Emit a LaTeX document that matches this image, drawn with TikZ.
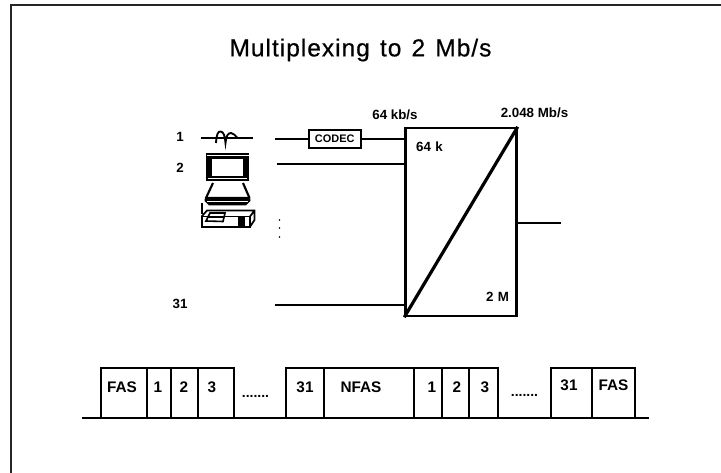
\documentclass[tikz,border=0pt]{standalone}
\usepackage{fontspec}
\setmainfont{Liberation Sans}
\newfontfamily\titlef[FakeBold=0.5,LetterSpace=4,WordSpace=1.3]{Liberation Sans}
\tikzset{
  ln/.style={line width=1.5pt,black},
  thn/.style={line width=1.2pt,black},
  lab/.style={inner sep=0pt,font=\bfseries\fontsize{10pt}{12pt}\selectfont},
  cell/.style={inner sep=0pt,font=\bfseries\fontsize{11.5pt}{13pt}\selectfont}
}
\begin{document}
\begin{tikzpicture}[x=0.75pt,y=-0.75pt]
\useasboundingbox[fill=white] (0,0) rectangle (721,473);
% page frame
\coordinate (fa) at (11,473);
\coordinate (fb) at (11,5.5);
\coordinate (fc) at (721,5.5);
\draw[line width=1.5pt,black!85] (fa) -- (fb) -- (fc);
% title
\node[inner sep=0pt,font=\titlef\fontsize{18.4pt}{22pt}\selectfont] (title) at (360.5,50) {Multiplexing to 2 Mb/s};
% multiplexer
\node[draw=black,line width=1.8pt,inner sep=0pt,minimum width=83.3pt,minimum height=141pt] (mux) at (461,222) {};
\draw[line width=2.4pt] (mux.south west) -- (mux.north east);
\node[lab] (l64k) at (429.5,147) {64\,\,k};
\node[lab] (l2m) at (497.5,297) {2\,\,M};
\node[lab] (l64) at (395,115) {64 kb/s};
\node[lab] (l2048) at (534.5,113) {2.048 Mb/s};
% codec
\node[draw=black,line width=1.5pt,inner sep=0pt,minimum width=39pt,minimum height=13.5pt,font=\bfseries\fontsize{8.2pt}{9pt}\selectfont] (codec) at (334.7,139) {CODEC};
% inputs
\coordinate (i1) at (275,139);
\coordinate (i2) at (276.7,163.7);
\coordinate (i31) at (275,305);
\coordinate (m1) at (mux.west |- i1);
\coordinate (m2) at (mux.west |- i2);
\coordinate (m31) at (mux.west |- i31);
\coordinate (out) at (561,222.7);
\coordinate (m3) at (mux.east |- out);
\draw[ln] (i1) -- (codec.west);
\draw[ln] (codec.east) -- (m1);
\draw[ln] (i2) -- (m2);
\draw[ln] (i31) -- (m31);
\draw[ln] (m3) -- (out);
\node[lab] (n1) at (180,136.5) {1};
\node[lab] (n2) at (180,168) {2};
\node[lab] (n31) at (180,303.5) {31};
% vertical dots
\fill (279.5,220) circle (0.8) (279.5,228) circle (0.8) (279.5,237) circle (0.8);
% telephone signal
\draw[thn] (200.7,138) -- (252.7,138);
\draw[line width=1.4pt] (216,143) .. controls (216.5,134) and (218,131.5) .. (220.5,131.5) .. controls (223.5,131.5) and (225,136) .. (225.5,143) .. controls (226,136) and (228,133) .. (231,133) .. controls (233.5,133) and (235,135.5) .. (237.5,138);
% computer: monitor
\fill (206,153) rectangle (249,181);
\fill[white] (212.3,159.3) rectangle (243.3,176);
\draw[white,line width=0.5pt] (208,178.3) -- (247,178.3);
\draw[white,line width=0.4pt] (206.5,155) -- (248.5,155);
% computer: keyboard
\draw[line width=1.6pt] (213,183) -- (206,198) (243,183) -- (249.5,198);
\fill (205,197) -- (250,197) -- (250.5,201) -- (246,205.5) -- (209,205.5) -- (204.5,201) -- cycle;
\draw[white,line width=0.5pt] (207,201) -- (248,201);
% computer: cable and base
\draw[line width=1.1pt] (202,203) -- (202,214);
\draw[line width=1.4pt] (201.7,216.5) rectangle (250,226.7);
\draw[line width=1.3pt] (201.7,216.5) -- (207,210.5) -- (254.5,210.5) -- (254.5,220) -- (250,226.7) (250,216.5) -- (254.5,210.5);
\fill (238,217) rectangle (245,226.2);
\draw[line width=1.2pt] (206,221) -- (210,213) -- (225,213) -- (223,221.5) -- cycle;
\draw[line width=1pt] (207,217) -- (223,217);
% frame structure
\coordinate (ba) at (82,417.7);
\coordinate (bb) at (649,417.7);
\draw[line width=1.7pt] (ba) -- (bb);
\foreach \nm/\xa/\xb/\txt/\tx/\ty in {
  a/100.7/146.7/FAS/122/387.5,
  b/146.7/170.7/1/158/387.5,
  c/170.7/197.7/2/184/387.5,
  d/197.7/234.3/3/212/387.5,
  e/285.7/324.3/31/305/387.5,
  f/324.3/414.3/NFAS/361/387.5,
  g/414.3/441.7/1/432/387.5,
  h/441.7/469.3/2/457/387.5,
  i/469.3/497.7/3/485/387.5,
  j/551/591.7/31/569/385,
  k/591.7/635/FAS/613.5/385}{
  \draw[line width=1.3pt] (\xa,417.7) -- (\xa,368.3) -- (\xb,368.3) -- (\xb,417.7);
  \node[cell] (t\nm) at (\tx,\ty) {\txt};
}
\node[cell,font=\bfseries\fontsize{10.5pt}{11pt}\selectfont] (d1) at (255.5,396) {.......};
\node[cell,font=\bfseries\fontsize{10.5pt}{11pt}\selectfont] (d2) at (524.5,395) {.......};
\end{tikzpicture}
\end{document}
